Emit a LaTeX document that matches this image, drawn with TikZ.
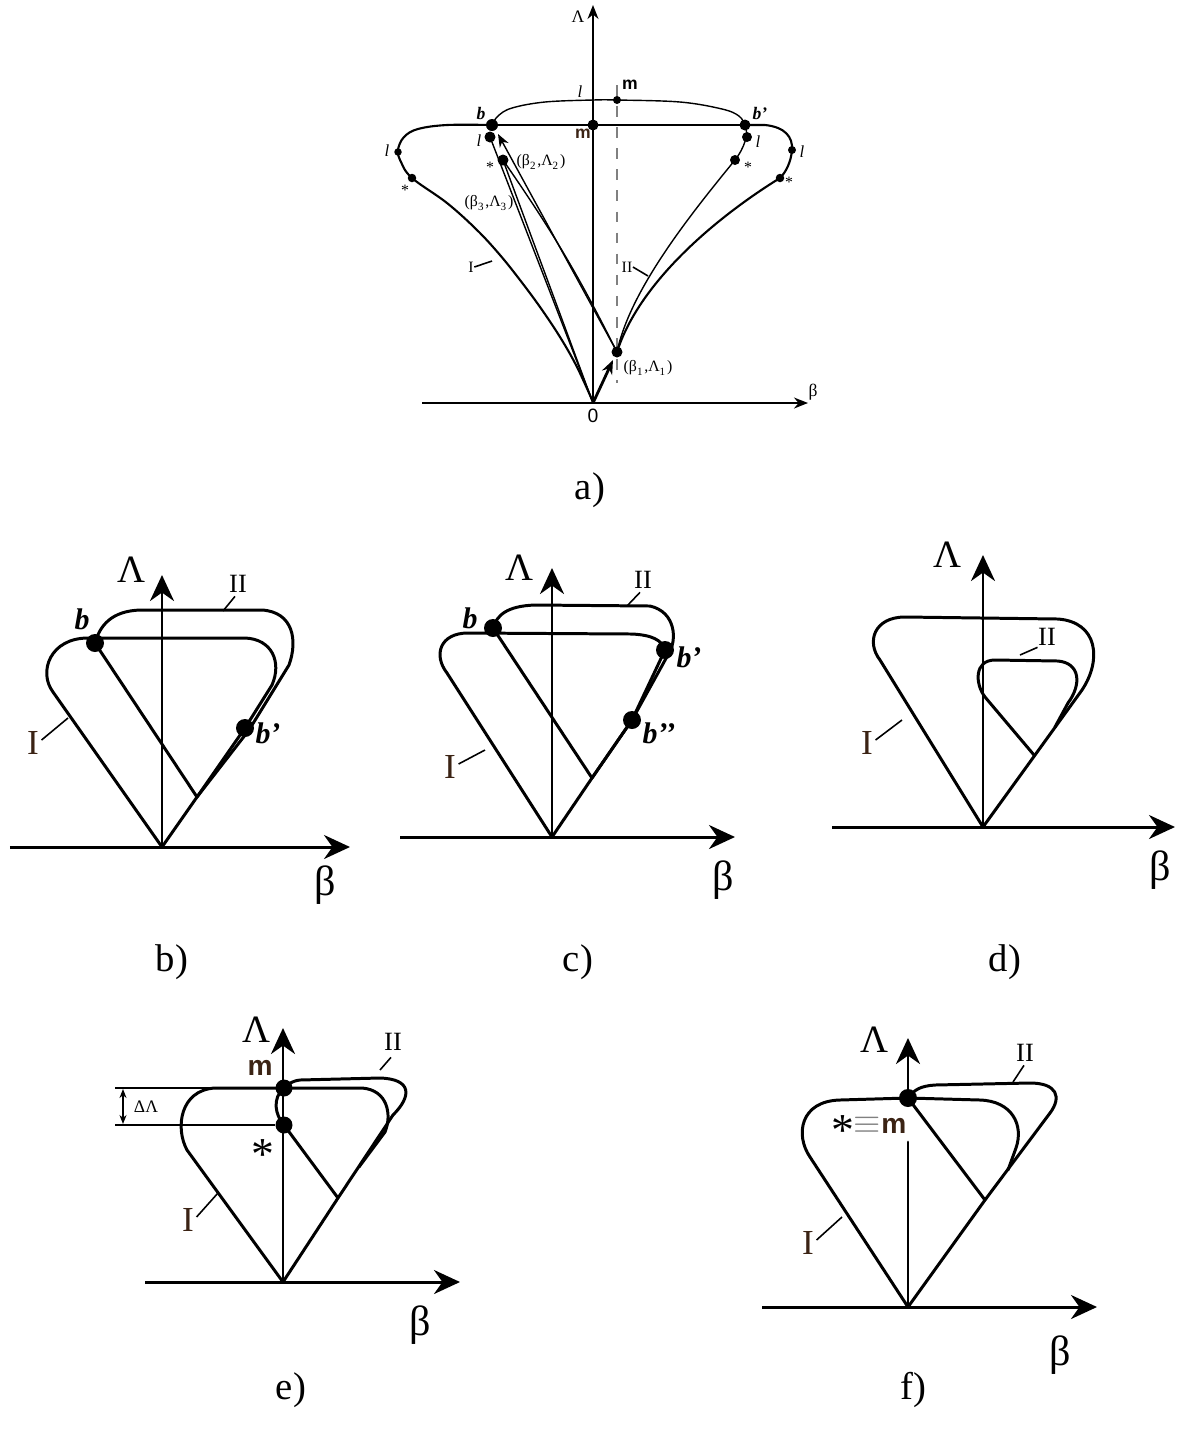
\documentclass[tikz,border=0pt]{standalone}
\usepackage{fontspec}
\setmainfont{Liberation Serif}
\newfontfamily\sansbold{Liberation Sans}
\usetikzlibrary{arrows.meta}

\tikzset{
  bigaxis/.style={line width=0.85pt, -{Stealth[length=2.6mm, width=2.4mm]}},
  smallaxis/.style={line width=0.5pt, -{Stealth[length=1.4mm, width=1.1mm]}},
  curveline/.style={line width=0.85pt, line join=round, line cap=round},
  acurve/.style={line width=0.6pt, line join=round},
  athin/.style={line width=0.4pt},
  tickline/.style={line width=0.45pt},
  bigdot/.style={circle, fill=black, inner sep=0pt, minimum size=1.8mm},
  adot/.style={circle, fill=black, inner sep=0pt, minimum size=0.9mm},
  atext/.style={font=\fontsize{4.5}{5}\selectfont, inner sep=0pt},
  asans/.style={font=\sansbold\bfseries\fontsize{5}{6}\selectfont, inner sep=0pt},
  greek/.style={font=\fontsize{11}{12}\selectfont, inner sep=0pt},
  betafont/.style={font=\fontsize{12}{13}\selectfont, inner sep=0pt},
  numI/.style={font=\fontsize{10}{11}\selectfont, inner sep=0pt, text=inkBrown},
  numII/.style={font=\fontsize{7.5}{9}\selectfont, inner sep=0pt},
  bname/.style={font=\bfseries\itshape\fontsize{8.5}{10}\selectfont, inner sep=0pt},
  msans/.style={font=\sansbold\bfseries\fontsize{8}{9}\selectfont, inner sep=0pt, text=inkBrown},
  capfont/.style={font=\fontsize{11}{12}\selectfont, inner sep=0pt}
}

\begin{document}
\begin{tikzpicture}[x=0.1mm, y=-0.1mm]
    \definecolor{inkBrown}{HTML}{3B2314}
    \useasboundingbox (0,0) rectangle (1181,1432);

    % ===== a) =====
    % Draw axes
    \coordinate (aO) at (593,403);
    \coordinate (aXl) at (422,403);
    \coordinate (aXr) at (808,403);
    \coordinate (aYt) at (593,5);
    \draw[smallaxis] (aXl) -- (aXr);
    \draw[smallaxis] (aO) -- (aYt);
    \node[atext, font=\fontsize{5}{6}\selectfont] (aBeta) at (813,392) {β};
    \node[atext, font=\fontsize{5}{6}\selectfont] (aLam) at (578,17) {Λ};
    \node[font=\sansbold\fontsize{5.5}{6}\selectfont, inner sep=0pt] (aZero) at (593,416) {0};

    % Dashed line through m
    \coordinate (aDashT) at (617,85);
    \coordinate (aDashB) at (617,383);
    \draw[athin, dashed, gray] (aDashT) -- (aDashB);

    % Points
    \coordinate (aB) at (492,125);
    \coordinate (aM) at (593,125);
    \coordinate (aMup) at (617,100);
    \coordinate (aBp) at (745,125);
    \coordinate (aLi) at (490,137);
    \coordinate (aBt2) at (503,160);
    \coordinate (aBt1) at (617,352);
    \coordinate (aSro) at (780,178);
    \coordinate (aSri) at (735,160);

    % Curve I
    \draw[acurve] plot[smooth, tension=0.6] coordinates {(593,402) (577,367) (560,337) (540,307) (520,280) (500,255) (477,230) (447,203) (412,178) (401,162) (398,150) (404,137) (418,129) (447,125) (492,125)};
    \draw[acurve] (aB) -- (aM) -- (aBp);
    \draw[acurve] (aBp) -- (765,125) .. controls (785,127) and (793,137) .. (792,150) .. controls (791,162) and (786,172) .. (aSro) .. controls (720,215) and (640,280) .. (aBt1);

    % Curve II
    \draw[athin] plot[smooth, tension=0.6] coordinates {(492,125) (498,116) (512,108) (545,102) (593,100) (617,100) (680,102) (722,109) (739,116) (745,125)};
    \draw[athin] (aBp) .. controls (749,133) and (745,147) .. (aSri) .. controls (690,215) and (630,290) .. (aBt1);

    % Rays
    \coordinate (aTip) at (498,134);
    \coordinate (aStep) at (613,360);
    \draw[athin] (aO) -- (aLi);
    \draw[athin] (aO) -- (aBt2);
    \draw[athin, -{Stealth[length=1.3mm, width=1mm]}] (aBt1) -- (aTip);
    \draw[athin] (aBt1) to[bend right=4] (aBt2);
    \draw[line width=0.8pt, -{Stealth[length=1.4mm, width=1.1mm]}] (aO) -- (aStep);

    % Dots
    \node[adot, minimum size=1.2mm] (aBd) at (aB) {};
    \node[adot, minimum size=1.1mm] (aMd) at (aM) {};
    \node[adot, minimum size=0.8mm] (aMupd) at (aMup) {};
    \node[adot, minimum size=1.1mm] (aBpd) at (aBp) {};
    \node[adot, minimum size=1.1mm] (aLid) at (aLi) {};
    \node[adot, minimum size=1.1mm] (aBt2d) at (aBt2) {};
    \node[adot, minimum size=1.1mm] (aBt1d) at (aBt1) {};
    \node[adot, minimum size=0.75mm] (aLl) at (398,152) {};
    \node[adot, minimum size=0.85mm] (aSl) at (412,178) {};
    \node[adot, minimum size=1mm] (aLri) at (747,137) {};
    \node[adot, minimum size=1mm] (aSrid) at (aSri) {};
    \node[adot, minimum size=0.8mm] (aLro) at (792,150) {};
    \node[adot, minimum size=0.85mm] (aSrod) at (aSro) {};

    % Labels
    \node[atext, font=\itshape\fontsize{4.8}{5}\selectfont] (aLtop) at (580,92) {l};
    \node[asans] (aMupl) at (630,85) {m};
    \node[asans, text=inkBrown] (aMl) at (583,134) {m};
    \node[atext, font=\bfseries\itshape\fontsize{5}{6}\selectfont] (aBl) at (481,113) {b};
    \node[atext, font=\bfseries\itshape\fontsize{5}{6}\selectfont] (aBpl) at (760,113) {b’};
    \node[atext, font=\itshape\fontsize{4.8}{5}\selectfont] (aLil) at (479,141) {l};
    \node[atext] (aSil) at (490,167) {*};
    \node[atext] (aBt2l) at (541,162) {(β\textsubscript{2},Λ\textsubscript{2})};
    \node[atext, font=\itshape\fontsize{4.8}{5}\selectfont] (aLll) at (387,151) {l};
    \node[atext] (aSll) at (405,190) {*};
    \node[atext] (aBt3l) at (489,203) {(β\textsubscript{3},Λ\textsubscript{3})};
    \node[atext] (aIl) at (471,267) {I};
    \node[atext] (aIIl) at (627,267) {II};
    \node[atext] (aBt1l) at (648,368) {(β\textsubscript{1},Λ\textsubscript{1})};
    \node[atext, font=\itshape\fontsize{4.8}{5}\selectfont] (aLril) at (758,142) {l};
    \node[atext] (aSril) at (748,167) {*};
    \node[atext, font=\itshape\fontsize{4.8}{5}\selectfont] (aLrol) at (802,152) {l};
    \node[atext] (aSrol) at (789,182) {*};
    \coordinate (aIt) at (492,261);
    \coordinate (aIIt) at (648,276);
    \draw[tickline] (aIl.east) -- (aIt);
    \draw[tickline] (aIIl.east) -- (aIIt);
    \node[capfont] (aCap) at (590,490) {a)};

    % ===== b) =====
    \coordinate (bO) at (162,847);
    \coordinate (bXl) at (10,847);
    \coordinate (bXr) at (350,847);
    \coordinate (bYt) at (162,575);
    \coordinate (bJ) at (197,797);
    \draw[bigaxis] (bXl) -- (bXr);
    \draw[bigaxis] (bO) -- (bYt);
    \node[bigdot] (bB) at (95,643) {};
    \node[bigdot] (bBp) at (245,728) {};
    % Loop I
    \draw[curveline] (bO) -- (53,692) .. controls (38,672) and (50,638) .. (88,638) -- (245,638) .. controls (272,639) and (282,662) .. (272,685) -- (bBp.center) -- (bJ) -- cycle;
    % Loop II
    \draw[curveline] (bB.center) -- (bJ) -- (249,730) -- (289,665) .. controls (298,640) and (293,612) .. (262,610) -- (140,610) .. controls (112,611) and (100,625) .. (bB.center);
    \node[greek] (bLam) at (132,570) {Λ};
    \node[betafont] (bBeta) at (325,885) {β};
    \node[bname] (bBl) at (82,619) {b};
    \node[bname] (bBpl) at (268,733) {b’};
    \node[numII] (bII) at (238,584) {II};
    \node[numI] (bI) at (33,743) {I};
    \coordinate (bIIt) at (223,611);
    \coordinate (bIt) at (68,718);
    \draw[tickline] (bII.south) ++(-3,3) -- (bIIt);
    \draw[tickline] (bI.east) ++(2,-3) -- (bIt);
    \node[capfont] (bCap) at (172,962) {b)};

    % ===== c) =====
    \coordinate (cO) at (552,837);
    \coordinate (cXl) at (400,837);
    \coordinate (cXr) at (735,837);
    \coordinate (cYt) at (552,568);
    \coordinate (cJ) at (592,778);
    \draw[bigaxis] (cXl) -- (cXr);
    \draw[bigaxis] (cO) -- (cYt);
    \node[bigdot] (cB) at (493,628) {};
    \node[bigdot] (cBp) at (665,650) {};
    \node[bigdot] (cBpp) at (632,720) {};
    % Loop I
    \draw[curveline] (cO) -- (447,673) .. controls (433,655) and (440,633) .. (468,633) -- (632,634) .. controls (652,635) and (662,640) .. (cBp.center) -- (cBpp.center) -- (cJ) -- cycle;
    % Loop II
    \draw[curveline] (cB.center) -- (cJ) -- (cBpp.center) -- (669,653) .. controls (677,640) and (676,612) .. (650,606) -- (535,605) .. controls (507,606) and (497,615) .. (cB.center);
    \node[greek] (cLam) at (520,568) {Λ};
    \node[betafont] (cBeta) at (723,880) {β};
    \node[bname] (cBl) at (470,618) {b};
    \node[bname] (cBpl) at (689,657) {b’};
    \node[bname] (cBppl) at (659,733) {b’’};
    \node[numII] (cII) at (643,580) {II};
    \node[numI] (cI) at (450,767) {I};
    \coordinate (cIIt) at (627,606);
    \coordinate (cIt) at (485,750);
    \draw[tickline] (cII.south) ++(-3,3) -- (cIIt);
    \draw[tickline] (cI.east) ++(2,-3) -- (cIt);
    \node[capfont] (cCap) at (578,962) {c)};

    % ===== d) =====
    \coordinate (dO) at (983,827);
    \coordinate (dXl) at (832,827);
    \coordinate (dXr) at (1175,827);
    \coordinate (dYt) at (983,555);
    \coordinate (dJ) at (1034,755);
    \draw[bigaxis] (dXl) -- (dXr);
    \draw[bigaxis] (dO) -- (dYt);
    % Loop I
    \draw[curveline] (dO) -- (880,660) .. controls (866,642) and (874,617) .. (905,617) -- (1058,619) .. controls (1098,622) and (1102,660) .. (1082,690) -- cycle;
    % Loop II
    \draw[curveline] (dJ) -- (985,697) .. controls (975,684) and (974,660) .. (995,660) -- (1058,661) .. controls (1080,663) and (1082,684) .. (1068,703) -- (1055,727);
    \node[greek] (dLam) at (948,555) {Λ};
    \node[betafont] (dBeta) at (1160,870) {β};
    \node[numII] (dII) at (1047,637) {II};
    \node[numI] (dI) at (867,743) {I};
    \coordinate (dIIt) at (1020,655);
    \coordinate (dIt) at (902,720);
    \draw[tickline] (dII.south west) ++(0,1) -- (dIIt);
    \draw[tickline] (dI.east) ++(2,-3) -- (dIt);
    \node[capfont] (dCap) at (1005,962) {d)};

    % ===== e) =====
    \coordinate (eO) at (283,1282);
    \coordinate (eXl) at (145,1282);
    \coordinate (eXr) at (460,1282);
    \coordinate (eYt) at (283,1028);
    \coordinate (eJ) at (338,1198);
    \coordinate (eR) at (393,1115);
    \draw[bigaxis] (eXl) -- (eXr);
    \draw[bigaxis] (eO) -- (eYt);
    \node[bigdot, minimum size=1.7mm] (eM) at (284,1088) {};
    \node[bigdot, minimum size=1.7mm] (eS) at (284,1125) {};
    \draw[curveline] (eO) -- (eJ) -- (eR);
    % Loop I
    \draw[curveline] (359,1167) -- (385,1132) .. controls (392,1115) and (388,1090) .. (362,1088) -- (eM.center) -- (215,1088) .. controls (180,1090) and (175,1128) .. (187,1150) -- (eO);
    % Loop II
    \draw[curveline] (eR) .. controls (412,1096) and (412,1079) .. (380,1078) -- (300,1080) .. controls (292,1081) and (288,1084) .. (eM.center) .. controls (272,1098) and (275,1115) .. (eS.center) -- (eJ);
    % Delta Lambda
    \coordinate (eD1) at (115,1088);
    \coordinate (eD2) at (115,1125);
    \coordinate (eA1) at (123,1089);
    \coordinate (eA2) at (123,1124);
    \draw[athin] (eD1) -- (eM);
    \draw[athin] (eD2) -- (eS);
    \draw[athin, {Stealth[length=0.9mm, width=0.7mm]}-{Stealth[length=0.9mm, width=0.7mm]}] (eA1) -- (eA2);
    \node[atext, font=\fontsize{5}{6}\selectfont] (eDl) at (146,1107) {ΔΛ};
    \node[greek] (eLam) at (257,1030) {Λ};
    \node[betafont] (eBeta) at (420,1325) {β};
    \node[msans] (eMl) at (260,1068) {m};
    \node[inner sep=0pt, font=\fontsize{13}{13}\selectfont] (eSl) at (263,1155) {*};
    \node[numII] (eII) at (393,1042) {II};
    \node[numI] (eI) at (188,1220) {I};
    \coordinate (eIIt) at (380,1070);
    \coordinate (eIt) at (218,1193);
    \draw[tickline] (eII.south) ++(-2,6) -- (eIIt);
    \draw[tickline] (eI.east) ++(2,-3) -- (eIt);
    \node[capfont] (eCap) at (291,1390) {e)};

    % ===== f) =====
    \coordinate (fO) at (908,1307);
    \coordinate (fXl) at (762,1307);
    \coordinate (fXr) at (1097,1307);
    \coordinate (fYt) at (908,1038);
    \coordinate (fGap) at (908,1142);
    \coordinate (fJ) at (985,1200);
    \coordinate (fR) at (1050,1113);
    \node[bigdot] (fM) at (908,1098) {};
    \draw[bigaxis] (fXl) -- (fXr);
    \draw[curveline] (fO) -- (fGap);
    \draw[bigaxis] (fM.center) -- (fYt);
    \draw[curveline] (fO) -- (fJ) -- (fR);
    % Loop I
    \draw[curveline] (1008,1170) -- (1016,1148) .. controls (1024,1125) and (1012,1101) .. (980,1100) -- (fM.center) -- (840,1100) .. controls (800,1101) and (795,1135) .. (810,1157) -- (fO);
    % Loop II
    \draw[curveline] (fM.center) -- (fJ);
    \draw[curveline] (fR) .. controls (1062,1097) and (1057,1083) .. (1030,1083) -- (935,1085) .. controls (920,1086) and (914,1090) .. (fM.center);
    \node[greek] (fLam) at (875,1040) {Λ};
    \node[betafont] (fBeta) at (1060,1355) {β};
    \node[inner sep=0pt, anchor=east] (fMl) at (907,1131) {{\fontsize{13}{13}\selectfont\raisebox{-1.2mm}{*}}{\color{gray}$\equiv$}{\sansbold\bfseries\fontsize{8}{9}\selectfont\color{inkBrown}m}};
    \node[numII] (fII) at (1025,1053) {II};
    \node[numI] (fI) at (808,1243) {I};
    \coordinate (fIIt) at (1013,1082);
    \coordinate (fIt) at (842,1217);
    \draw[tickline] (fII.south) ++(-1,3) -- (fIIt);
    \draw[tickline] (fI.east) ++(2,-3) -- (fIt);
    \node[capfont] (fCap) at (913,1390) {f)};

\end{tikzpicture}
\end{document}
